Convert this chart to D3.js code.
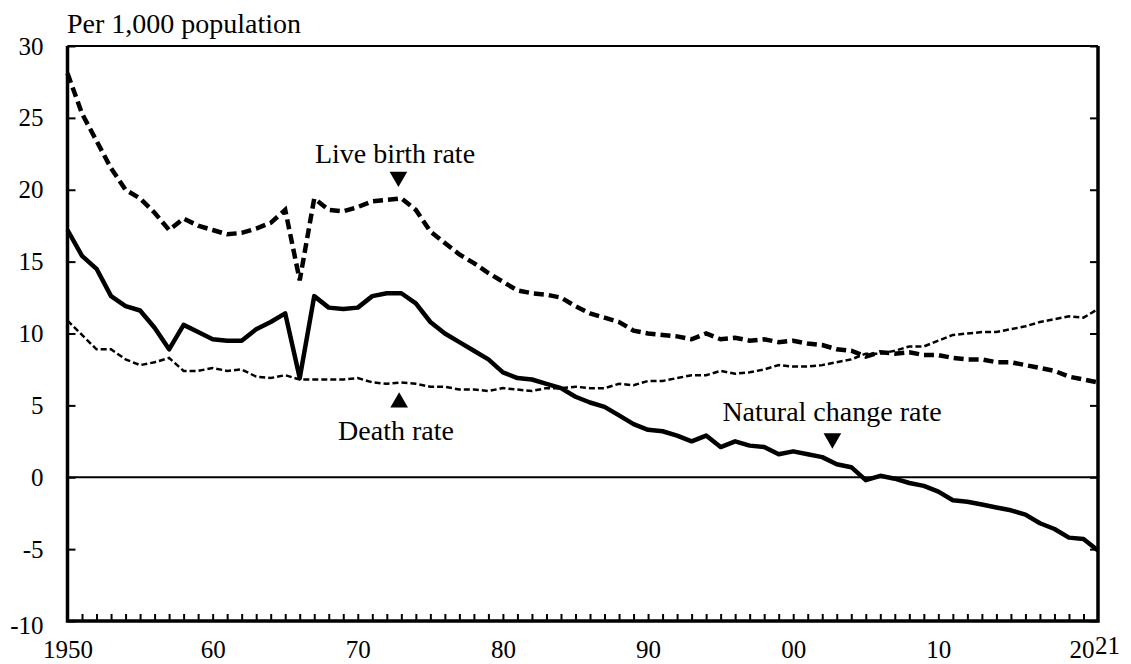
<!DOCTYPE html>
<html lang="en">
<head>
<meta charset="utf-8">
<title>Vital rates</title>
<script src="https://d3js.org/d3.v7.min.js"></script>
<style>
  body { margin: 0; background: #fff; }
  svg { display: block; font-family: "Liberation Serif", "Times New Roman", serif; }
</style>
</head>
<body>
<div class="chart"></div>
<script>
// data, per 1,000 population
const years = d3.range(1950, 2022);
const birthRate = [28.1,25.3,23.4,21.5,20.0,19.4,18.4,17.2,18.0,17.5,
  17.2,16.9,17.0,17.3,17.7,18.6,13.7,19.4,18.6,18.5,
  18.8,19.2,19.3,19.4,18.6,17.1,16.3,15.5,14.9,14.2,
  13.6,13.0,12.8,12.7,12.5,11.9,11.4,11.1,10.8,10.2,
  10.0,9.9,9.8,9.6,10.0,9.6,9.7,9.5,9.6,9.4,
  9.5,9.3,9.2,8.9,8.8,8.4,8.7,8.6,8.7,8.5,
  8.5,8.3,8.2,8.2,8.0,8.0,7.8,7.6,7.4,7.0,
  6.8,6.6];
const deathRate = [10.9,9.9,8.9,8.9,8.2,7.8,8.0,8.3,7.4,7.4,
  7.6,7.4,7.5,7.0,6.9,7.1,6.8,6.8,6.8,6.8,
  6.9,6.6,6.5,6.6,6.5,6.3,6.3,6.1,6.1,6.0,
  6.2,6.1,6.0,6.2,6.2,6.3,6.2,6.2,6.5,6.4,
  6.7,6.7,6.9,7.1,7.1,7.4,7.2,7.3,7.5,7.8,
  7.7,7.7,7.8,8.0,8.2,8.6,8.6,8.8,9.1,9.1,
  9.5,9.9,10.0,10.1,10.1,10.3,10.5,10.8,11.0,11.2,
  11.1,11.7];
const naturalRate = [17.2,15.4,14.5,12.6,11.9,11.6,10.4,8.9,10.6,10.1,
  9.6,9.5,9.5,10.3,10.8,11.4,6.9,12.6,11.8,11.7,
  11.8,12.6,12.8,12.8,12.1,10.8,10.0,9.4,8.8,8.2,
  7.3,6.9,6.8,6.5,6.2,5.6,5.2,4.9,4.3,3.7,
  3.3,3.2,2.9,2.5,2.9,2.1,2.5,2.2,2.1,1.6,
  1.8,1.6,1.4,0.9,0.7,-0.2,0.1,-0.1,-0.4,-0.6,
  -1.0,-1.6,-1.7,-1.9,-2.1,-2.3,-2.6,-3.2,-3.6,-4.2,
  -4.3,-5.1];
const yTicks = [-10,-5,0,5,10,15,20,25,30];
const xLabelYears = [1950,1960,1970,1980,1990,2000,2010,2020,2021];
const xLabels = ["1950","60","70","80","90","00","10","20","21"];

const width = 1131, height = 664;
const plotL = 67.5, plotR = 1098, plotT = 46, plotB = 621;

const svg = d3.select(".chart").append("svg")
  .attr("width", width).attr("height", height);

const x = d3.scaleLinear().domain([1950, 2021]).range([plotL, plotR]);
const y = d3.scaleLinear().domain([-10, 30]).range([plotB, plotT]);

// unit label
svg.append("text")
  .attr("x", 67).attr("y", 33)
  .attr("font-size", 28)
  .text("Per 1,000 population");

// zero line
svg.append("line")
  .attr("x1", plotL).attr("x2", plotR)
  .attr("y1", y(0)).attr("y2", y(0))
  .attr("stroke", "#000").attr("stroke-width", 2);

// series
const line = d3.line().x((d, i) => x(years[i])).y(d => y(d));

svg.append("path").datum(deathRate)
  .attr("d", line).attr("fill", "none")
  .attr("stroke", "#000").attr("stroke-width", 2.5)
  .attr("stroke-dasharray", "6,3");

svg.append("path").datum(birthRate)
  .attr("d", line).attr("fill", "none")
  .attr("stroke", "#000").attr("stroke-width", 4.5)
  .attr("stroke-dasharray", "10,5");

svg.append("path").datum(naturalRate)
  .attr("d", line).attr("fill", "none")
  .attr("stroke", "#000").attr("stroke-width", 4.5)
  .attr("stroke-linejoin", "round");

// axes
const leftAxis = svg.append("g")
  .attr("transform", `translate(${plotL},0)`)
  .call(d3.axisLeft(y).tickValues(yTicks).tickSize(-8).tickSizeOuter(0).tickPadding(24)
    .tickFormat(d => String(d)));
leftAxis.selectAll("text").attr("font-size", 25).attr("font-family", "Liberation Serif");
leftAxis.selectAll("text").filter(d => d === -10).attr("dy", "0.5em");

const rightAxis = svg.append("g")
  .attr("transform", `translate(${plotR},0)`)
  .call(d3.axisRight(y).tickValues(yTicks).tickSize(-8).tickSizeOuter(0).tickFormat(""));

const minorAxis = svg.append("g")
  .attr("transform", `translate(0,${plotB})`)
  .call(d3.axisBottom(x).tickValues(d3.range(1951, 2021)).tickSize(-7).tickSizeOuter(0).tickFormat(""));

const labelAxis = svg.append("g")
  .attr("transform", `translate(0,${plotB})`)
  .call(d3.axisBottom(x).tickValues(xLabelYears).tickSize(0).tickSizeOuter(0).tickPadding(19)
    .tickFormat((d, i) => xLabels[i]));
labelAxis.select(".domain").remove();
labelAxis.selectAll("text").attr("font-size", 25).attr("font-family", "Liberation Serif")
  .filter(d => d === 2021).attr("dx", 9).attr("dy", "0.55em");
labelAxis.selectAll("text").filter(d => d === 2020).attr("dx", -2);

svg.selectAll(".tick line").attr("stroke", "#000").attr("stroke-width", 2);
svg.selectAll(".domain").attr("stroke", "none");

// frame
svg.append("line").attr("x1", plotL).attr("x2", plotR).attr("y1", plotT).attr("y2", plotT)
  .attr("stroke", "#000").attr("stroke-width", 2);
svg.append("path")
  .attr("d", `M${plotL},${plotT}V${plotB}H${plotR}V${plotT}`)
  .attr("fill", "none").attr("stroke", "#000").attr("stroke-width", 3.5);

// annotations
const notes = [
  {text: "Live birth rate", tx: 395, ty: 163, year: 1972.8, val: 20.9, dir: "down"},
  {text: "Death rate", tx: 396, ty: 440, year: 1972.85, val: 5.2, dir: "up"},
  {text: "Natural change rate", tx: 832, ty: 421, year: 2002.7, val: 2.7, dir: "down"}
];
const tri = d3.symbol().type(d3.symbolTriangle).size(135);
notes.forEach(n => {
  svg.append("text")
    .attr("x", n.tx).attr("y", n.ty)
    .attr("text-anchor", "middle")
    .attr("font-size", 28)
    .text(n.text);
  svg.append("path")
    .attr("d", tri)
    .attr("transform", `translate(${x(n.year)},${y(n.val)}) rotate(${n.dir === "down" ? 180 : 0})`)
    .attr("fill", "#000");
});
</script>
</body>
</html>
